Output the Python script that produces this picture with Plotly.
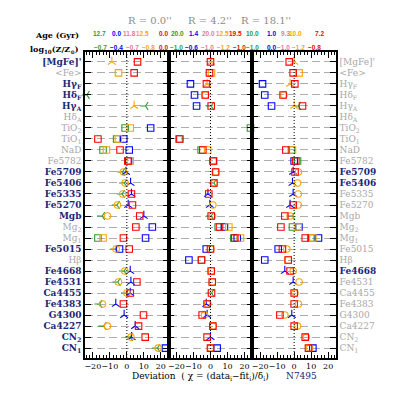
import plotly.graph_objects as go

# ---------------- data ----------------
ROWS = ["[MgFe]'", "<Fe>", "Hγ_F", "Hδ_F", "Hγ_A", "Hδ_A", "TiO2", "TiO1", "NaD",
        "Fe5782", "Fe5709", "Fe5406", "Fe5335", "Fe5270", "Mgb", "Mg2", "Mg1",
        "Fe5015", "Hβ", "Fe4668", "Fe4531", "Ca4455", "Fe4383", "G4300", "Ca4227",
        "CN2", "CN1"]
ROW_HTML = ["[MgFe]'", "&lt;Fe&gt;", "Hγ<sub>F</sub>", "Hδ<sub>F</sub>", "Hγ<sub>A</sub>",
            "Hδ<sub>A</sub>", "TiO<sub>2</sub>", "TiO<sub>1</sub>", "NaD", "Fe5782", "Fe5709",
            "Fe5406", "Fe5335", "Fe5270", "Mgb", "Mg<sub>2</sub>", "Mg<sub>1</sub>", "Fe5015",
            "Hβ", "Fe4668", "Fe4531", "Ca4455", "Fe4383", "G4300", "Ca4227",
            "CN<sub>2</sub>", "CN<sub>1</sub>"]
LEFT_NAVY = ["[MgFe]'", "Hγ_F", "Hδ_F", "Hγ_A", "Fe5709", "Fe5406", "Fe5335", "Fe5270",
             "Mgb", "Fe5015", "Fe4668", "Fe4531", "Ca4455", "Fe4383", "G4300", "Ca4227",
             "CN2", "CN1"]
RIGHT_NAVY = ["Fe5709", "Fe5406", "Fe4668"]

PANEL_TITLES = ["R = 0.0''", "R = 4.2''", "R = 18.1''"]
AGES = [["12.7", "0.0", "11.8", "12.5", "0.0"],
        ["20.0", "1.4", "20.0", "12.5", "19.5"],
        ["10.0", "1.0", "9.3", "10.0", "7.2"]]
METALS = [["−0.7", "−0.4", "−0.7", "−0.8", "0.0"],
          ["−1.0", "−0.6", "−1.0", "−1.2", "−1.0"],
          ["−1.0", "0.0", "−1.0", "−1.2", "−0.8"]]
SERIES = ["green", "blue", "pink", "orange", "red"]
X_TICKS = [-20, -10, 0, 10, 20]

N = None
# R = 0.0''
P1_GREEN = [N, N, N, -23.5, 11, N, -1, -6, -14, N, -2.6, -1.5, -2.8, -5.8, -14.5, N, -17, -6.6,
            N, -1.6, -5.3, -0.4, -16, N, -13.6, 2.0, 18.0]
P1_BLUE = [N, N, N, N, N, N, 14, -1.8, 1.4, 1.0, -0.5, 2.2, 2.7, 0.8, 10, 15, 11, -4.3,
           N, 2.0, 2.4, 2.0, -6.5, -1.6, 4.9, 2.8, 22.7]
P1_ORANGE = [-8.8, -4.9, N, N, 4.3, N, 2.0, -5.0, -12, 2.0, -2.0, -1.0, -2.4, -5.5, -11.4, N,
             -14, -6.3, N, -1.2, -4.9, 0.0, -14.3, N, -11.4, 2.4, 18.4]
P1_RED = [6.3, 4.3, N, N, N, N, N, -17, -4.0, 0.6, N, N, 2.7, 3.3, 7.6, 5.3, -2.0, 1.4,
          N, N, 5.9, 2.0, -2.0, 9.8, 6.9, 10.8, N]
# R = 4.2''
P2_GREEN = [N, N, N, N, 0.4, N, 23.5, -18.5, -5.5, N, N, 2.0, N, N, 0.4, 4.5, 13.7, N,
            -5.3, N, N, 0.6, N, N, N, N, N]
P2_BLUE = [N, N, -11.8, -9.4, -8.2, N, N, N, N, 1.6, N, N, -1.5, -0.4, N, 8.2, 15.7, -2.5,
           -12.7, N, N, N, -2.5, -2.0, N, 0.0, 3.9]
P2_ORANGE = [0.2, 0.6, -2.0, -3.0, N, N, N, N, -1.6, 2.0, 3.2, 2.2, N, 1.4, 1.2, 10.8, 17.6,
             0.2, N, 0.6, 1.2, N, -1.6, -3.5, 1.6, N, 0.0]
P2_RED = [0.0, -0.6, -2.4, -3.1, 0.4, N, N, -18, -4.5, 1.6, 3.0, 2.0, -1.0, N, 0.4, 5.3, 14.3,
          0.0, -5.3, 0.4, 1.0, 0.6, -2.0, -4.9, 1.4, -2.0, 0.0]
# R = 18.1''
P3_GREEN = [N, N, N, N, 2.4, N, N, N, -1.6, 2.0, N, N, N, N, -1.0, -1.0, 9.8, N, N, N, N, N,
            N, N, N, N, N]
P3_BLUE = [N, N, -18.6, -17.3, -13.3, N, N, N, N, 0.0, -0.6, -1.0, -0.6, -2.4, N, 2.8, 14.3,
           -9.4, -17.3, -5.5, -0.6, N, N, -1.4, N, N, 11]
P3_ORANGE = [0.0, 2.9, -2.4, -6.0, 0.0, N, N, N, -1.0, N, 2.5, 2.0, 2.4, 2.4, -2.4, 2.4, 11,
             -4.3, -3.5, -0.6, 2.9, 0.5, 2.5, -5.5, 2.0, 7.2, 9.0]
P3_RED = [-2.9, -0.6, 0.4, -6.5, 4.9, N, N, N, -4.9, 1.0, 0.5, N, N, -0.6, -5.5, -7.8, 6.5,
          -6.9, -3.5, -2.4, N, 0.0, 0.0, -8.4, 0.0, 6.5, 8.4]

PANEL_DATA = [
    {"green": P1_GREEN, "blue": P1_BLUE, "orange": P1_ORANGE, "red": P1_RED},
    {"green": P2_GREEN, "blue": P2_BLUE, "orange": P2_ORANGE, "red": P2_RED},
    {"green": P3_GREEN, "blue": P3_BLUE, "orange": P3_ORANGE, "red": P3_RED},
]

# ---------------- style ----------------
COL = {"green": "#2f9a2f", "blue": "#0000ff", "pink": "#e8789c",
       "orange": "#ffa500", "red": "#ff0000"}
NAVY = "#1c2777"
GREY = "#a8a8a8"
SERIF = "DejaVu Serif"

TRI_IDX = {"Fe5709", "Fe5406", "Fe5335", "Fe5270", "Mgb", "Fe4668", "Fe4531", "Ca4455",
           "Fe4383", "G4300", "Ca4227", "CN2"}
GREEN_TRI = TRI_IDX | {"[MgFe]'", "Hδ_F", "Hγ_A", "Fe5015", "CN1"}
ORANGE_TRI = {"[MgFe]'", "Hγ_F", "Hγ_A"}
ORANGE_CIRC = TRI_IDX | {"Fe5015", "CN1", "Hδ_F"}


def symbol(color, row):
    if color == "red":
        return "square-open"
    if color == "blue":
        return "y-up-open" if row in TRI_IDX else "square-open"
    if color == "green":
        return "y-left-open" if row in GREEN_TRI else "square-open"
    if row in ORANGE_TRI:
        return "y-up-open"
    if row in ORANGE_CIRC:
        return "circle-open"
    return "square-open"


# page body has an 8px margin: the figure starts at (8, 8) on screen
OFF = 8
W, H = 391, 391
L, R, T, B = 85 - OFF, 63, 52 - OFF, 41
PW, PH = W - L - R, H - T - B

fig = go.Figure()
ORDER = ["green", "blue", "orange", "red"]
for p in range(3):
    xa = "x" if p == 0 else f"x{p+1}"
    ya = "y" if p == 0 else f"y{p+1}"
    for c in ORDER:
        vals = PANEL_DATA[p][c]
        xs, ys, syms = [], [], []
        for i, v in enumerate(vals):
            if v is None:
                continue
            xs.append(v)
            ys.append(i)
            syms.append(symbol(c, ROWS[i]))
        fig.add_trace(go.Scatter(
            x=xs, y=ys, mode="markers", xaxis=xa, yaxis=ya, showlegend=False,
            cliponaxis=False,
            marker=dict(symbol=syms, size=6.5, color=COL[c],
                        line=dict(color=COL[c], width=1.1))))

left_text = []
right_text = []
for r, h in zip(ROWS, ROW_HTML):
    if r in LEFT_NAVY:
        left_text.append(f"<span style='color:{NAVY}'><b>{h}</b></span>")
    else:
        left_text.append(f"<span style='color:{GREY}'>{h}</span>")
    if r in RIGHT_NAVY:
        right_text.append(f"<span style='color:{NAVY}'><b>{h}</b></span>")
    else:
        right_text.append(f"<span style='color:{GREY}'>{h}</span>")

layout = dict(width=W, height=H, margin=dict(l=L, r=R, t=T, b=B, autoexpand=False),
              template="none",
              paper_bgcolor="white", plot_bgcolor="white",
              font=dict(family=SERIF, color="black"))
shapes = []
for p in range(3):
    sfx = "" if p == 0 else str(p + 1)
    d = [p / 3, (p + 1) / 3]
    layout["xaxis" + sfx] = dict(
        domain=d, anchor="y" + sfx, range=[-24.6, 24.6], tickvals=X_TICKS,
        ticks="inside", ticklen=6, tickwidth=1.2, tickcolor="black",
        showline=True, linecolor="black", linewidth=1.5, mirror="ticks",
        showgrid=False, zeroline=False, automargin=False, tickangle=0,
        minor=dict(dtick=2, ticks="inside", ticklen=3, tickwidth=1, tickcolor="black",
                   showgrid=False),
        tickfont=dict(family=SERIF, size=8, color="black"), tickformat="d")
    yax = dict(
        domain=[0, 1], anchor="x" + sfx, range=[26.9, -0.9],
        tickvals=list(range(len(ROWS))), automargin=False,
        ticks="inside", ticklen=6, tickwidth=1.2, tickcolor="black",
        showline=True, linecolor="black", linewidth=1.5, mirror="ticks",
        showgrid=True, gridcolor="#adadad", gridwidth=1.2, griddash="8px,4px",
        zeroline=False, tickfont=dict(family=SERIF, size=9))
    if p == 0:
        yax["ticktext"] = left_text
    elif p == 2:
        yax["ticktext"] = right_text
        yax["side"] = "right"
    else:
        yax["showticklabels"] = False
    layout["yaxis" + sfx] = yax
    shapes.append(dict(type="line", xref="x" + sfx, yref="y" + sfx + " domain",
                       x0=0, x1=0, y0=0, y1=1,
                       line=dict(color="black", width=1, dash="1px,2px"), layer="above"))
layout["shapes"] = shapes


def px(x):
    # screen pixel -> paper fraction
    return (x - OFF - L) / PW


def py(y):
    return (H - B - (y - OFF)) / PH


ann = []
TITLE_X = [126, 210, 293]
for p in range(3):
    ann.append(dict(text=PANEL_TITLES[p], x=px(TITLE_X[p]), y=py(13), xref="paper",
                    yref="paper", showarrow=False,
                    font=dict(family=SERIF, size=10, color="#8c8c8c")))
AGE_X = [[91, 110, 121, 134, 157], [177, 193, 208, 222, 235], [261, 278, 292, 304, 326]]
MET_X = [[92, 108, 124, 140, 157], [176, 191, 207, 223, 239], [261, 278, 292, 307, 323]]
for p in range(3):
    for k, s in enumerate(SERIES):
        ann.append(dict(text=f"<b>{AGES[p][k]}</b>", x=px(AGE_X[p][k]), y=py(28),
                        xref="paper", yref="paper", showarrow=False,
                        font=dict(family="Liberation Sans", size=6.5, color=COL[s])))
        ann.append(dict(text=f"<b>{METALS[p][k]}</b>", x=px(MET_X[p][k]), y=py(42),
                        xref="paper", yref="paper", showarrow=False,
                        font=dict(family="Liberation Sans", size=6.5, color=COL[s])))
ann.append(dict(text="<b>Age (Gyr)</b>", x=px(81), y=py(28), xref="paper", yref="paper",
                xanchor="right", showarrow=False, font=dict(family=SERIF, size=8, color="black")))
ann.append(dict(text="<b>log<sub>10</sub>(Z/Z<sub>⊙</sub>)</b>", x=px(81), y=py(42), xref="paper",
                yref="paper", xanchor="right", showarrow=False,
                font=dict(family=SERIF, size=8, color="black")))
ann.append(dict(text="Deviation  ( χ = (data<sub>i</sub>−fit<sub>i</sub>)/δ<sub>i</sub>)",
                x=px(200), y=py(384), xref="paper", yref="paper", showarrow=False,
                font=dict(family=SERIF, size=9, color="black")))
ann.append(dict(text="N7495", x=px(319), y=py(383), xref="paper", yref="paper",
                showarrow=False, font=dict(family=SERIF, size=9, color=NAVY)))
layout["annotations"] = ann

fig.update_layout(**layout)
fig.write_html("out.html")
